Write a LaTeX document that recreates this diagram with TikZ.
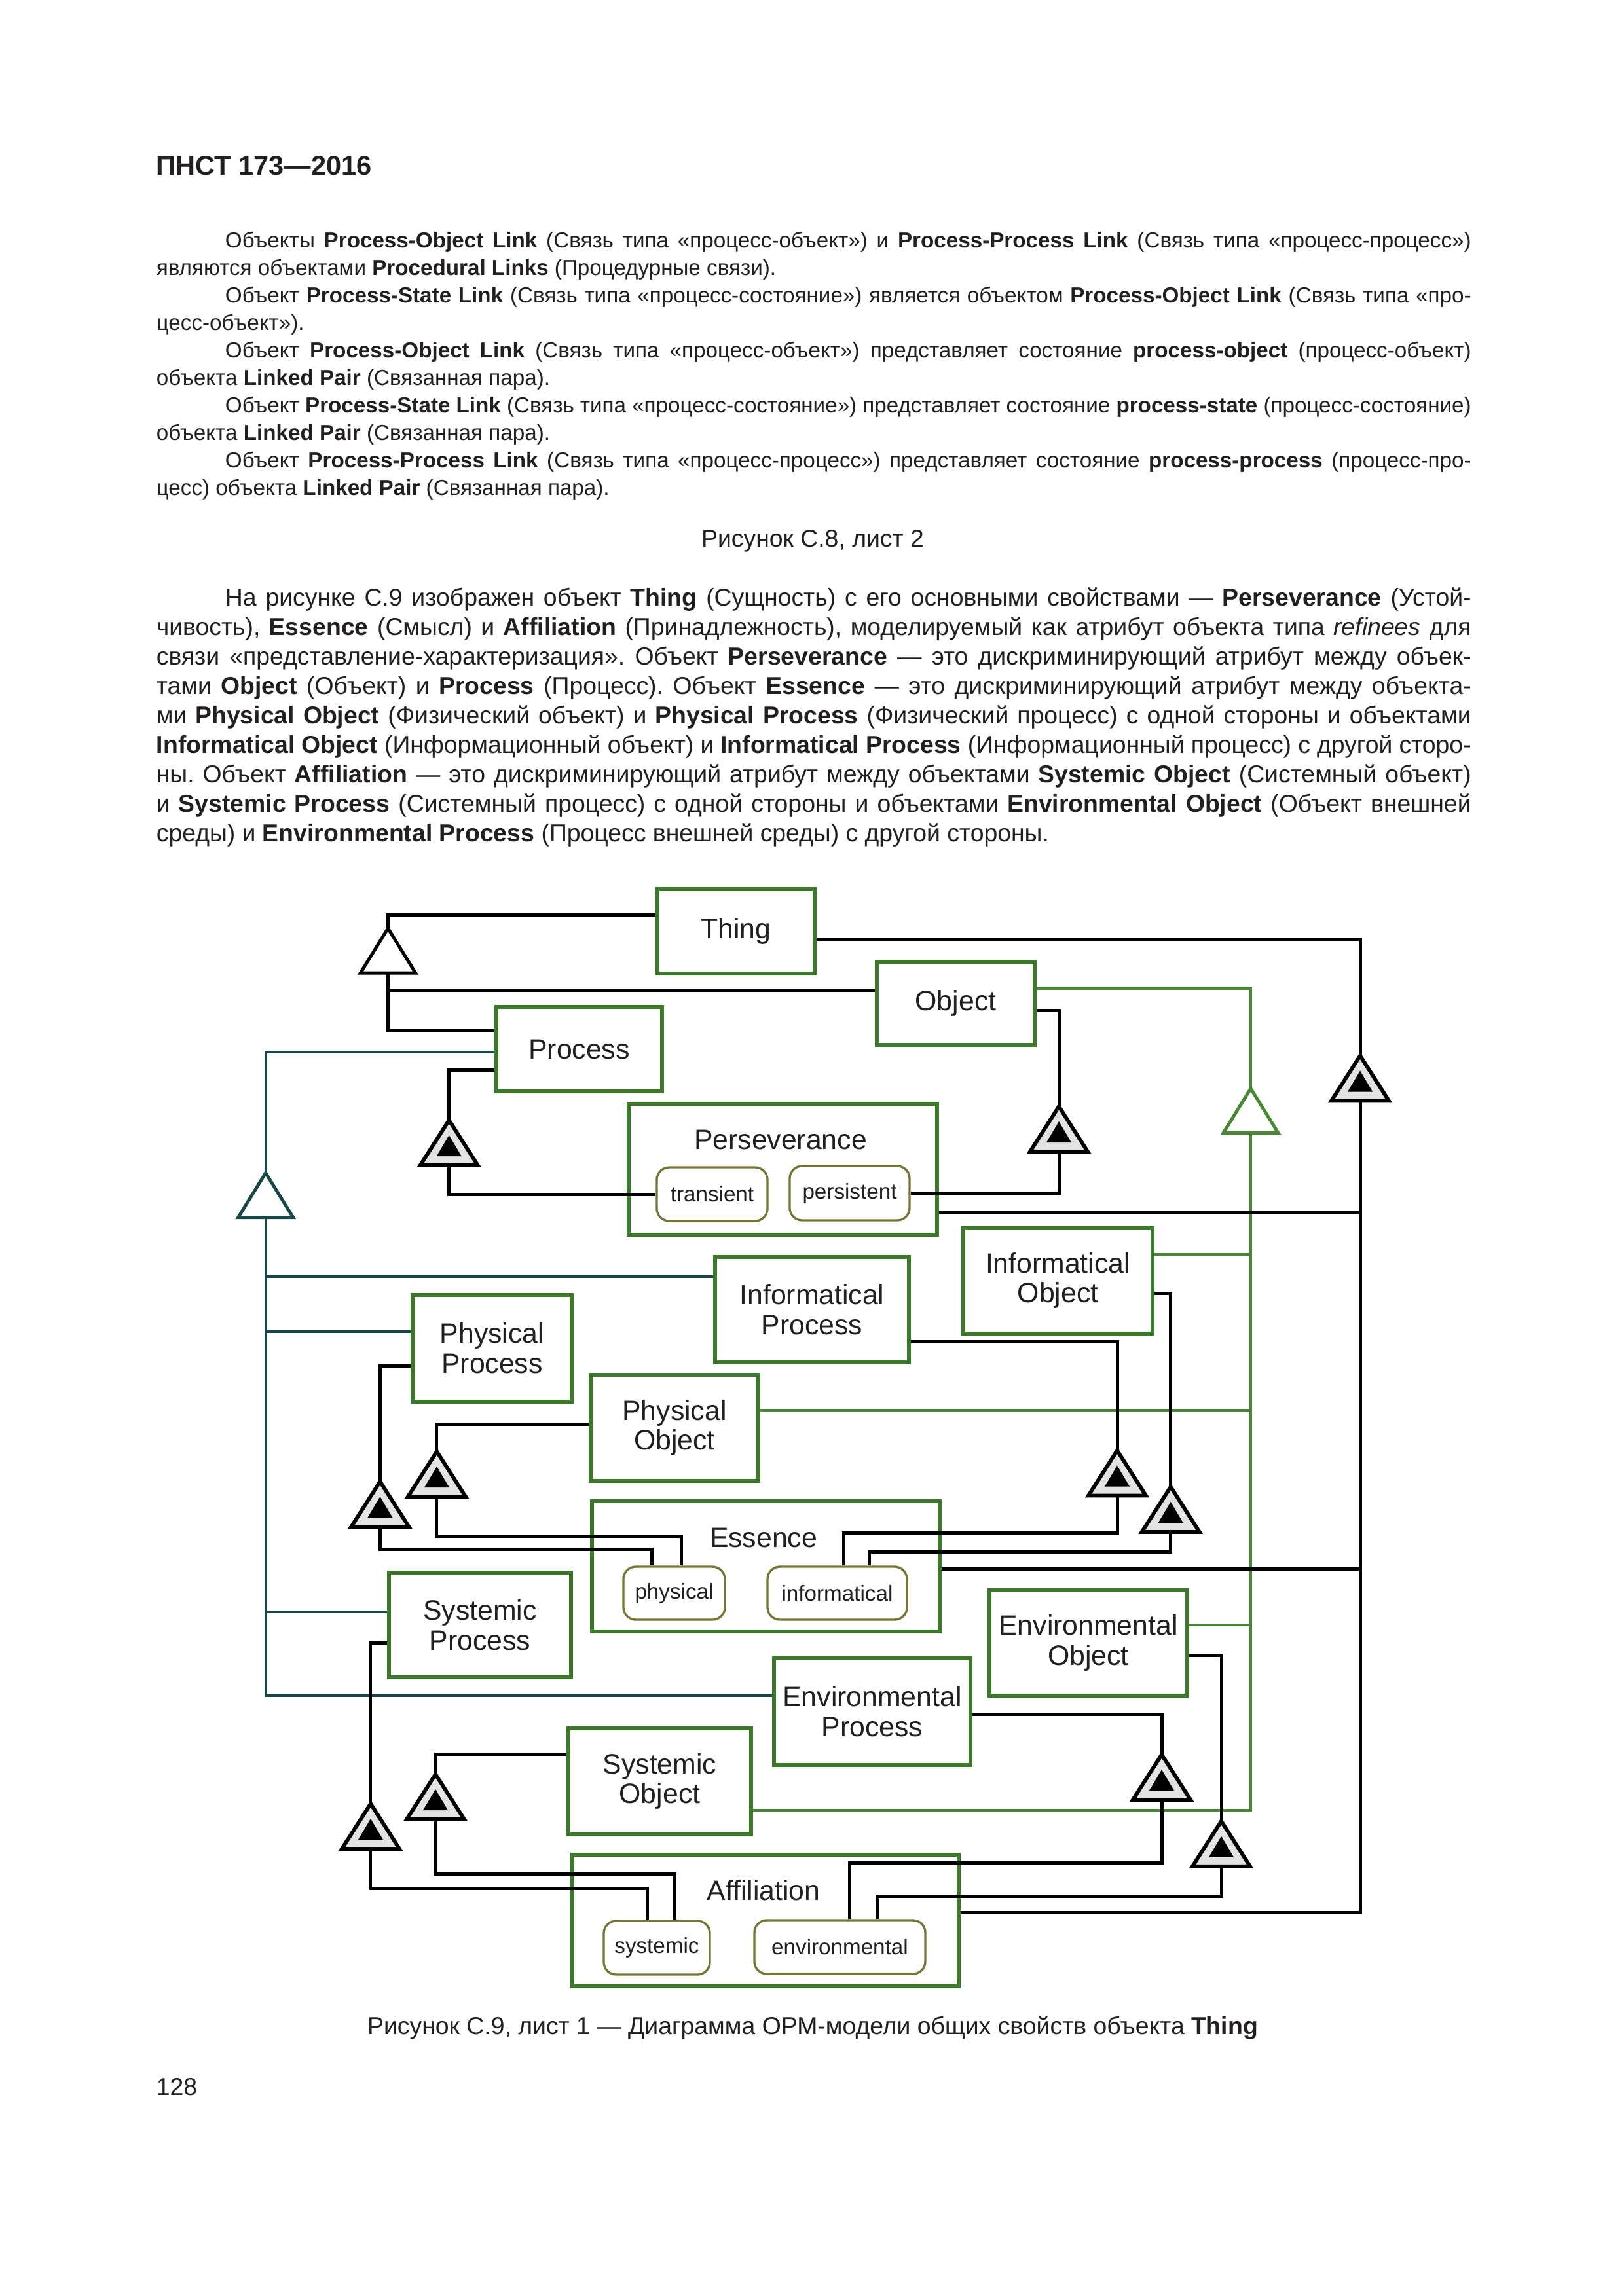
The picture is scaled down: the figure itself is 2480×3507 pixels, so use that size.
\documentclass[tikz,border=0pt]{standalone}
\usepackage{fontspec}
\setmainfont{Liberation Sans}
\usetikzlibrary{calc}
\frenchspacing

\definecolor{boxgreen}{RGB}{59,120,42}
\definecolor{stateolive}{RGB}{118,118,52}
\definecolor{linkteal}{RGB}{24,72,72}
\definecolor{linkgreen}{RGB}{72,135,50}
\definecolor{ink}{RGB}{35,31,32}

% generalization triangle: name, apex, colour
\newcommand{\gentri}[3]{%
  \coordinate (#1-a) at (#2);
  \coordinate (#1-b) at ($(#2)+(0,68)$);
  \draw[#3, line width=1.2pt, fill=white] (#1-a) -- ++(42,68) -- ++(-84,0) -- cycle;}
% exhibition triangle: name, apex
\newcommand{\exhtri}[2]{%
  \coordinate (#1-a) at (#2);
  \coordinate (#1-b) at ($(#2)+(0,69)$);
  \draw[line width=1.4pt, fill=gray!22] (#1-a) -- ++(44,69) -- ++(-88,0) -- cycle;
  \fill ($(#1-a)+(0,23)$) -- ++(19,32) -- ++(-38,0) -- cycle;}
\newcommand{\nohyph}{\hyphenpenalty=10000 \exhyphenpenalty=10000 }

\begin{document}
\begin{tikzpicture}[x=0.084667mm, y=-0.084667mm, text=ink,
    sz/.style 2 args={minimum width={#1*0.084667mm}, minimum height={#2*0.084667mm}},
    obj/.style={draw=boxgreen, line width=1.5pt, fill=white, align=center, inner sep=0pt,
      font=\fontsize{10.3}{11}\selectfont},
    stt/.style={draw=stateolive, line width=0.8pt, fill=white, rounded corners=1.6mm, inner sep=0pt,
      font=\fontsize{8}{9}\selectfont},
    lbl/.style={inner sep=0pt, anchor=base, font=\fontsize{10.3}{11}\selectfont},
    lnk/.style={line width=1.2pt, black},
    tlnk/.style={line width=1pt, linkteal},
    glnk/.style={line width=1pt, linkgreen},
    para/.style={text width=170mm, align=justify, inner sep=0pt, anchor=base west}]

\fill[white] (0,0) rectangle (2480,3507);
\useasboundingbox (0,0) rectangle (2480,3507);

% page text
\node[inner sep=0pt, anchor=base west, font=\fontsize{10}{12}\selectfont\bfseries] (hdr) at (238,267) {ПНСТ 173—2016};

\node[para, font=\fontsize{8}{10.12}\selectfont] (txt1) at (238,378) {\nohyph
\hspace*{8.9mm}Объекты \textbf{Process-Object Link} (Связь типа «процесс-объект») и \textbf{Process-Process Link} (Связь типа «процесс-процесс»)\linebreak
являются объектами \textbf{Procedural Links} (Процедурные связи).\par
\hspace*{8.9mm}Объект \textbf{Process-State Link} (Связь типа «процесс-состояние») является объектом \textbf{Process-Object Link} (Связь типа «про-\linebreak
цесс-объект»).\par
\hspace*{8.9mm}Объект \textbf{Process-Object Link} (Связь типа «процесс-объект») представляет состояние \textbf{process-object} (процесс-объект)\linebreak
объекта \textbf{Linked Pair} (Связанная пара).\par
\hspace*{8.9mm}Объект \textbf{Process-State Link} (Связь типа «процесс-состояние») представляет состояние \textbf{process-state} (процесс-состояние)\linebreak
объекта \textbf{Linked Pair} (Связанная пара).\par
\hspace*{8.9mm}Объект \textbf{Process-Process Link} (Связь типа «процесс-процесс») представляет состояние \textbf{process-process} (процесс-про-\linebreak
цесс) объекта \textbf{Linked Pair} (Связанная пара).};

\node[inner sep=0pt, anchor=base, font=\fontsize{9}{11}\selectfont] (cap8) at (1241,835) {Рисунок С.8, лист 2};

\node[para, font=\fontsize{9}{10.87}\selectfont] (txt2) at (238,925) {\nohyph
\hspace*{8.9mm}На рисунке С.9 изображен объект \textbf{Thing} (Сущность) с его основными свойствами — \textbf{Perseverance} (Устой-\linebreak
чивость), \textbf{Essence} (Смысл) и \textbf{Affiliation} (Принадлежность), моделируемый как атрибут объекта типа \textit{refinees} для\linebreak
связи «представление-характеризация». Объект \textbf{Perseverance} — это дискриминирующий атрибут между объек-\linebreak
тами \textbf{Object} (Объект) и \textbf{Process} (Процесс). Объект \textbf{Essence} — это дискриминирующий атрибут между объекта-\linebreak
ми \textbf{Physical Object} (Физический объект) и \textbf{Physical Process} (Физический процесс) с одной стороны и объектами\linebreak
\textbf{Informatical Object} (Информационный объект) и \textbf{Informatical Process} (Информационный процесс) с другой сторо-\linebreak
ны. Объект \textbf{Affiliation} — это дискриминирующий атрибут между объектами \textbf{Systemic Object} (Системный объект)\linebreak
и \textbf{Systemic Process} (Системный процесс) с одной стороны и объектами \textbf{Environmental Object} (Объект внешней\linebreak
среды) и \textbf{Environmental Process} (Процесс внешней среды) с другой стороны.};

\node[inner sep=0pt, anchor=base, font=\fontsize{9}{11}\selectfont] (cap9) at (1241,3107) {Рисунок С.9, лист 1 — Диаграмма ОРМ-модели общих свойств объекта \textbf{Thing}};
\node[inner sep=0pt, anchor=base west, font=\fontsize{9}{11}\selectfont] (pageno) at (238,3200) {128};

% things
\node[obj, sz={240}{129}] (thing) at (1124,1422.5) {Thing};
\node[obj, sz={241}{127}] (object) at (1459.5,1532.5) {Object};
\node[obj, sz={253}{129}] (process) at (884.5,1602.5) {Process};
\node[obj, sz={471}{200}] (persev) at (1195.5,1786) {};
\node[lbl] (persev-l) at (1192,1755) {Perseverance};
\node[stt, sz={169}{82}] (transient) at (1087.5,1824) {transient};
\node[stt, sz={183}{83}] (persistent) at (1297.5,1822.5) {persistent};
\node[obj, sz={296}{161}] (infproc) at (1240,2000.5) {Informatical\\Process};
\node[obj, sz={289}{162}] (infobj) at (1615.5,1956) {Informatical\\Object};
\node[obj, sz={243}{163}] (physproc) at (751.5,2059.5) {Physical\\Process};
\node[obj, sz={256}{162}] (physobj) at (1030,2181) {Physical\\Object};
\node[obj, sz={531}{199}] (essence) at (1169.5,2392.5) {};
\node[lbl] (essence-l) at (1166,2363) {Essence};
\node[stt, sz={155}{81}] (physical) at (1029.5,2433.5) {physical};
\node[stt, sz={213}{81}] (informatical) at (1278.5,2433.5) {informatical};
\node[obj, sz={278}{160}] (sysproc) at (733,2482) {Systemic\\Process};
\node[obj, sz={302}{161}] (envobj) at (1662,2509.5) {Environmental\\Object};
\node[obj, sz={300}{163}] (envproc) at (1332,2614.5) {Environmental\\Process};
\node[obj, sz={279}{162}] (sysobj) at (1007.5,2721) {Systemic\\Object};
\node[obj, sz={590}{201}] (affil) at (1169,2933.5) {};
\node[lbl] (affil-l) at (1166,2902) {Affiliation};
\node[stt, sz={162}{82}] (systemic) at (1003,2975) {systemic};
\node[stt, sz={261}{82}] (environmental) at (1282.5,2974) {environmental};

% triangles
\gentri{g1}{592.5,1418}{black}
\gentri{g2}{405.7,1791.6}{linkteal}
\gentri{g3}{1910,1662.6}{linkgreen}
\exhtri{et}{2077,1612.5}
\exhtri{ep}{685.7,1711}
\exhtri{eo}{1617,1690}
\exhtri{epp}{580.4,2263}
\exhtri{epo}{667,2217}
\exhtri{eip}{1706,2215.5}
\exhtri{eio}{1787.7,2271}
\exhtri{esp}{566,2755}
\exhtri{eso}{665,2710}
\exhtri{eep}{1774,2680}
\exhtri{eeo}{1865,2781.7}

% teal: process specializations
\draw[tlnk] (process.west |- 0,1607) -| (g2-a);
\draw[tlnk] (g2-b) |- (envproc.west |- 0,2590);
\foreach \n/\y in {infproc/1950, physproc/2034, sysproc/2461.6}
  \draw[tlnk] (\n.west |- 0,\y) -- (g2-b |- 0,\y);

% green: object specializations
\draw[glnk] (object.east |- 0,1509.5) -| (g3-a);
\draw[glnk] (g3-b) |- (sysobj.east |- 0,2765);
\foreach \n/\y in {infobj/1916, physobj/2154, envobj/2482}
  \draw[glnk] (\n.east |- 0,\y) -- (g3-b |- 0,\y);

% thing generalization
\draw[lnk] (thing.west |- 0,1397) -| (g1-a);
\draw[lnk] (g1-b) |- (object.west |- 0,1512);
\draw[lnk] (g1-b) |- (process.west |- 0,1573.5);

% thing exhibition
\draw[lnk] (thing.east |- 0,1434) -| (et-a);
\draw[lnk] (et-b) |- (affil.east |- 0,2921);
\draw[lnk] (persev.east |- 0,1851) -- (et-b |- 0,1851);
\draw[lnk] (essence.east |- 0,2396) -- (et-b |- 0,2396);

% perseverance
\draw[lnk] (process.west |- 0,1634.7) -| (ep-a);
\draw[lnk] (ep-b) |- (transient.west);
\draw[lnk] (object.east |- 0,1543) -| (eo-a);
\draw[lnk] (eo-b) |- (persistent.east);

% essence
\draw[lnk] (physproc.west |- 0,2086.5) -| (epp-a);
\draw[lnk] (epp-b) |- (995,2366.6) -- (physical.north -| 995,0);
\draw[lnk] (physobj.west |- 0,2175) -| (epo-a);
\draw[lnk] (epo-b) |- (1040,2346) -- (physical.north -| 1040,0);
\draw[lnk] (infproc.east |- 0,2049) -| (eip-a);
\draw[lnk] (eip-b) |- (1288,2341) -- (informatical.north -| 1288,0);
\draw[lnk] (infobj.east |- 0,1975) -| (eio-a);
\draw[lnk] (eio-b) |- (1327,2370.5) -- (informatical.north -| 1327,0);

% affiliation
\draw[lnk] (sysproc.west |- 0,2509) -| (esp-a);
\draw[lnk] (esp-b) |- (988.6,2884) -- (systemic.north -| 988.6,0);
\draw[lnk] (sysobj.west |- 0,2679) -| (eso-a);
\draw[lnk] (eso-b) |- (1030.7,2862) -- (systemic.north -| 1030.7,0);
\draw[lnk] (envproc.east |- 0,2618) -| (eep-a);
\draw[lnk] (eep-b) |- (1297.5,2845.5) -- (environmental.north -| 1297.5,0);
\draw[lnk] (envobj.east |- 0,2528) -| (eeo-a);
\draw[lnk] (eeo-b) |- (1339,2896) -- (environmental.north -| 1339,0);

\end{tikzpicture}
\end{document}
